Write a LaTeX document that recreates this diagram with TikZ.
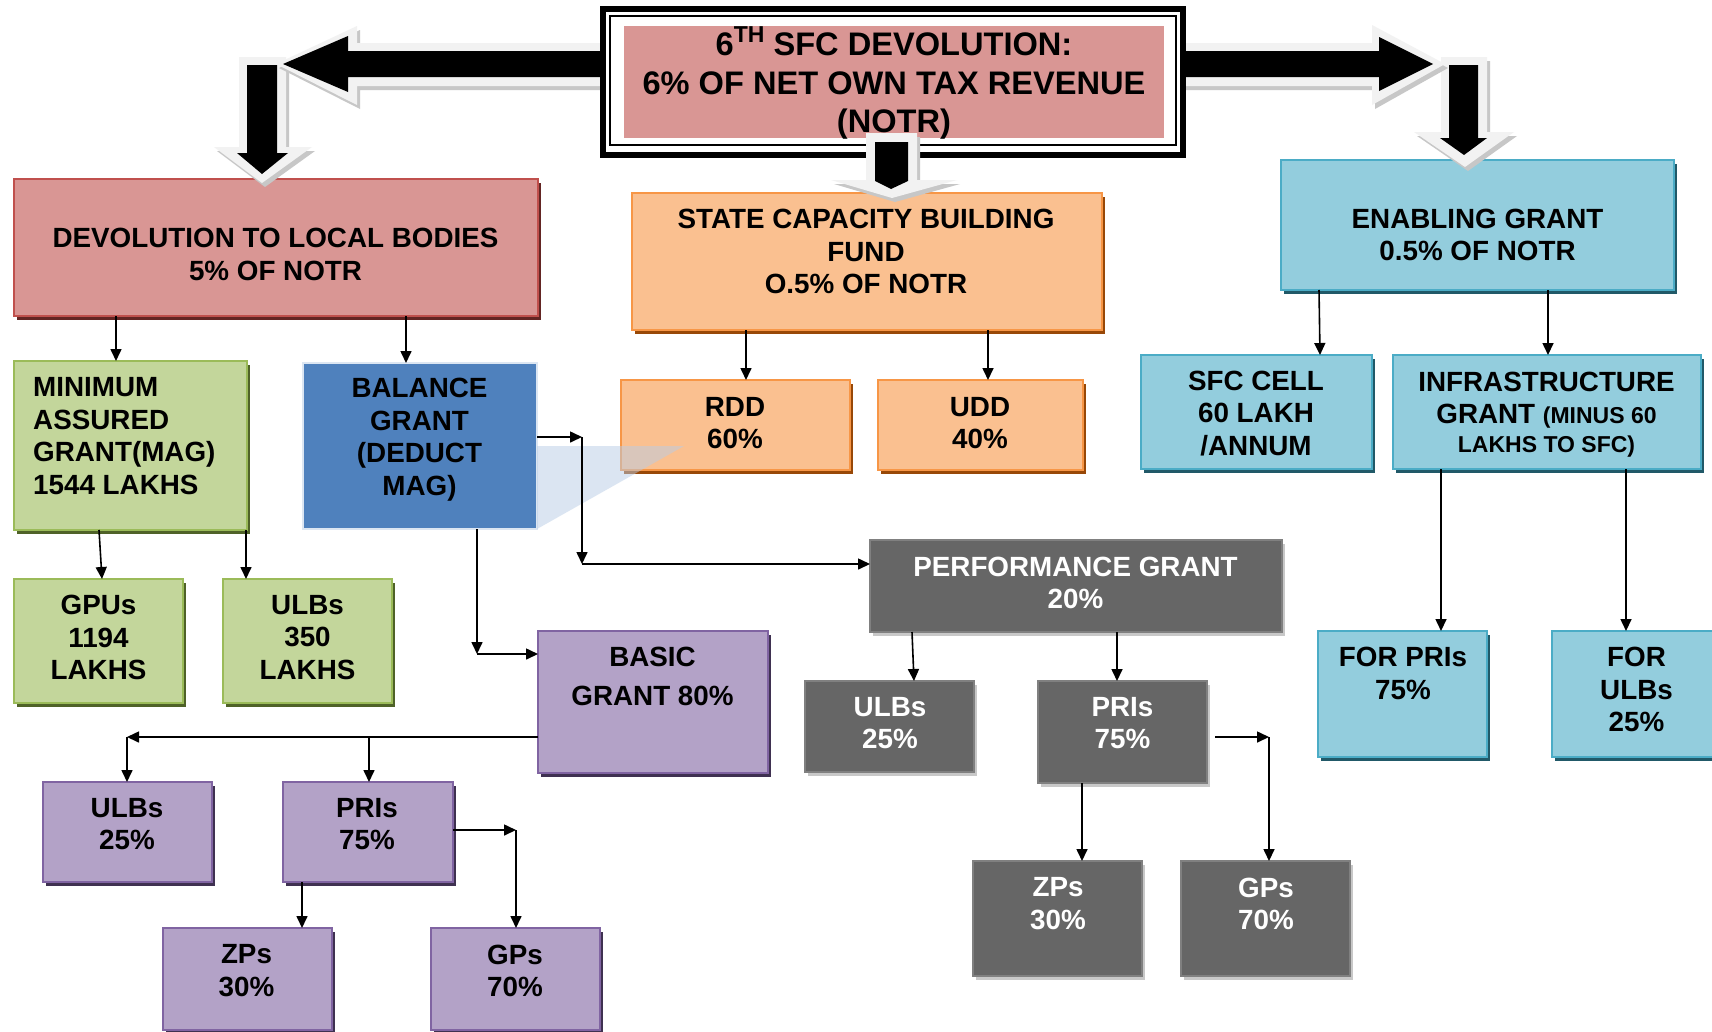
\documentclass[tikz,border=0pt]{standalone}
\usepackage{fontspec}
\setmainfont{Liberation Sans}
\usetikzlibrary{arrows.meta,shadows}
\definecolor{pinkF}{HTML}{D99694}
\definecolor{pinkD}{HTML}{C0504D}
\definecolor{pinkS}{HTML}{632523}
\definecolor{orF}{HTML}{FAC090}
\definecolor{orD}{HTML}{F79646}
\definecolor{orS}{HTML}{984807}
\definecolor{tlF}{HTML}{93CDDD}
\definecolor{tlD}{HTML}{4BACC6}
\definecolor{tlS}{HTML}{215968}
\definecolor{grF}{HTML}{C3D69B}
\definecolor{grD}{HTML}{9BBB59}
\definecolor{grS}{HTML}{4F6228}
\definecolor{blF}{HTML}{4F81BD}
\definecolor{blD}{HTML}{DCE6F2}
\definecolor{puF}{HTML}{B3A2C7}
\definecolor{puD}{HTML}{8064A2}
\definecolor{puS}{HTML}{3F3151}
\definecolor{gyF}{HTML}{666666}
\definecolor{gyD}{HTML}{808080}
\definecolor{gyS}{HTML}{C8C8C8}
\definecolor{triC}{RGB}{185,205,230}
\begin{document}
\begin{tikzpicture}[x=1pt,y=-1pt,
  box/.style={rectangle, inner sep=0pt, outer sep=0pt, line width=2pt},
  sbox/.style n args={3}{box, fill=#1, draw=#2, drop shadow={shadow xshift=3pt, shadow yshift=-4pt, fill=#3, opacity=1}},
  pinkbox/.style={sbox={pinkF}{pinkD}{pinkS}},
  orbox/.style={sbox={orF}{orD}{orS}},
  tlbox/.style={sbox={tlF}{tlD}{tlS}},
  grbox/.style={sbox={grF}{grD}{grS}},
  pubox/.style={sbox={puF}{puD}{puS}},
  gybox/.style={sbox={gyF}{gyD}{gyS}},
  blbox/.style={box, fill=blF, draw=blD, line width=1.5pt},
  txt/.style={align=center, inner sep=0pt, font=\bfseries\fontsize{27.8}{32.5}\selectfont},
  wtxt/.style={txt, text=white},
  arr/.style={line width=1.6pt, -{Triangle[length=12pt,width=11pt]}},
  halo/.style={fill=black!5},
  haloshadow/.style={fill=black!22},
  blk/.style={fill=black}
]
\useasboundingbox (0,0) rectangle (1712,1031);
\fill[white] (0,0) rectangle (1712,1031);

% ---------- boxes ----------
\node[pinkbox, minimum width=524pt, minimum height=137pt] (dev) at (276,247.5) {};
\node[txt] (devt) at (275.5,254.25) {DEVOLUTION TO LOCAL BODIES\\5\% OF NOTR};
\node[orbox, minimum width=470pt, minimum height=137pt] (scb) at (867,261.5) {};
\node[txt] (scbt) at (866,251.5) {STATE CAPACITY BUILDING\\FUND\\O.5\% OF NOTR};
\node[tlbox, minimum width=393pt, minimum height=130pt] (ena) at (1477.5,225) {};
\node[txt] (enat) at (1477.5,235) {ENABLING GRANT\\0.5\% OF NOTR};

\node[grbox, minimum width=233pt, minimum height=169pt] (min) at (130.5,445.5) {};
\node[txt, align=left, anchor=west] (mint) at (33,436) {MINIMUM\\ASSURED\\GRANT(MAG)\\1544 LAKHS};
\node[blbox, minimum width=234pt, minimum height=166pt] (bal) at (420,446) {};
\node[txt] (balt) at (419.5,439.5) {BALANCE\\GRANT\\(DEDUCT\\MAG)};
\node[orbox, minimum width=229pt, minimum height=90pt] (rdd) at (735.5,425) {};
\node[txt] (rddt) at (735,423) {RDD\\60\%};
\node[orbox, minimum width=205pt, minimum height=90pt] (udd) at (980.5,425) {};
\node[txt] (uddt) at (980,423) {UDD\\40\%};
\node[tlbox, minimum width=231pt, minimum height=114pt] (sfc) at (1256.5,412) {};
\node[txt] (sfct) at (1256,413.25) {SFC CELL\\60 LAKH\\/ANNUM};
\node[tlbox, minimum width=308pt, minimum height=114pt] (inf) at (1547,412) {};
\node[txt] (inft) at (1546.5,414.5) {INFRASTRUCTURE\\GRANT {\fontsize{23}{26}\selectfont (MINUS 60}\\[-3.7pt]{\fontsize{23}{26}\selectfont LAKHS TO SFC)}};

\node[grbox, minimum width=169pt, minimum height=124pt] (gpu) at (98.5,641) {};
\node[txt] (gput) at (98.5,637.5) {GPUs\\1194\\LAKHS};
\node[grbox, minimum width=169pt, minimum height=124pt] (ulm) at (307.5,641) {};
\node[txt] (ulmt) at (307.5,637.5) {ULBs\\350\\LAKHS};

\node[pubox, minimum width=230pt, minimum height=142pt] (bas) at (653,702) {};
\node[txt] (bast) at (652.5,676.25) {BASIC\\[6pt]GRANT 80\%};

\node[gybox, minimum width=412pt, minimum height=92pt] (prf) at (1076,586) {};
\node[wtxt] (prft) at (1075.5,583) {PERFORMANCE GRANT\\20\%};
\node[gybox, minimum width=169pt, minimum height=91pt] (gu) at (889.5,726.5) {};
\node[wtxt] (gut) at (890,723) {ULBs\\25\%};
\node[gybox, minimum width=169pt, minimum height=102pt] (gp) at (1122.5,732) {};
\node[wtxt] (gpt) at (1122.5,723) {PRIs\\75\%};
\node[gybox, minimum width=169pt, minimum height=115pt] (gz) at (1057.5,918.5) {};
\node[wtxt] (gzt) at (1058,903.75) {ZPs\\30\%};
\node[gybox, minimum width=169pt, minimum height=115pt] (gg) at (1265.5,918.5) {};
\node[wtxt] (ggt) at (1266,903.75) {GPs\\70\%};

\node[tlbox, minimum width=169pt, minimum height=126pt] (fp) at (1402.5,694) {};
\node[txt] (fpt) at (1403,673.5) {FOR PRIs\\75\%};
\node[tlbox, minimum width=169pt, minimum height=126pt] (fu) at (1636.5,694) {};
\node[txt] (fut) at (1636.5,689.75) {FOR\\ULBs\\25\%};

\node[pubox, minimum width=169pt, minimum height=100pt] (pu) at (127.5,832) {};
\node[txt] (put) at (127,824) {ULBs\\25\%};
\node[pubox, minimum width=170pt, minimum height=100pt] (pp) at (368,832) {};
\node[txt] (ppt) at (367,824) {PRIs\\75\%};
\node[pubox, minimum width=169pt, minimum height=102pt] (pz) at (247.5,979) {};
\node[txt] (pzt) at (246.5,970.75) {ZPs\\30\%};
\node[pubox, minimum width=169pt, minimum height=102pt] (pg) at (515.5,979) {};
\node[txt] (pgt) at (515,970.75) {GPs\\70\%};

% translucent wedge
\fill[triC, opacity=0.5] (bal.east |- 0,446) -- (684,446) -- (bal.south east) -- cycle;

% ---------- block arrows (left / right) ----------
% left down arrow
\fill[haloshadow, shift={(3,4)}] (239,57) -- (286,57) -- (286,147) -- (312,147) -- (262,183) -- (214,147) -- (239,147) -- cycle;
\fill[halo] (239,57) -- (286,57) -- (286,147) -- (312,147) -- (262,183) -- (214,147) -- (239,147) -- cycle;
\fill[blk] (247,65) -- (277,65) -- (277,153) -- (288,153) -- (262,174) -- (237,153) -- (247,153) -- cycle;
% left arrow
\fill[haloshadow, shift={(3,4)}] (603,43) -- (357,43) -- (357,26) -- (276,64) -- (357,105) -- (357,86) -- (603,86) -- cycle;
\fill[halo] (603,43) -- (357,43) -- (357,26) -- (276,64) -- (357,105) -- (357,86) -- (603,86) -- cycle;
\fill[blk] (600,51) -- (348,51) -- (348,36) -- (283,64) -- (348,92) -- (348,77) -- (600,77) -- cycle;
% right down arrow
\fill[haloshadow, shift={(3,4)}] (1441,57) -- (1487,57) -- (1487,132) -- (1514,132) -- (1465,167) -- (1414,132) -- (1441,132) -- cycle;
\fill[halo] (1441,57) -- (1487,57) -- (1487,132) -- (1514,132) -- (1465,167) -- (1414,132) -- (1441,132) -- cycle;
\fill[blk] (1449,65) -- (1478,65) -- (1478,138) -- (1487,138) -- (1464,155) -- (1440,138) -- (1449,138) -- cycle;
% right arrow
\fill[haloshadow, shift={(3,4)}] (1173,43) -- (1372,43) -- (1372,25) -- (1445,64) -- (1372,105) -- (1372,86) -- (1173,86) -- cycle;
\fill[halo] (1173,43) -- (1372,43) -- (1372,25) -- (1445,64) -- (1372,105) -- (1372,86) -- (1173,86) -- cycle;
\fill[blk] (1180,51) -- (1379,51) -- (1379,37) -- (1433,64) -- (1379,91) -- (1379,77) -- (1180,77) -- cycle;

% ---------- title frame ----------
\draw[line width=6pt, fill=white] (603,9) rectangle (1183,155);
\draw[line width=2pt] (610,16) rectangle (1176,145);
\node[box, fill=pinkF, minimum width=540pt, minimum height=112pt] (ttl) at (894,82) {};
\node[txt, font=\bfseries\fontsize{32.6}{38.3}\selectfont] (ttlt) at (894,83) {6\raisebox{13pt}{\fontsize{23}{23}\selectfont TH} SFC DEVOLUTION:\\6\% OF NET OWN TAX REVENUE\\(NOTR)};

% centre arrow
\fill[haloshadow, shift={(3,4)}] (866,133) -- (917,133) -- (917,180) -- (957,180) -- (892,198) -- (831,180) -- (866,180) -- cycle;
\fill[halo] (866,133) -- (917,133) -- (917,180) -- (957,180) -- (892,198) -- (831,180) -- (866,180) -- cycle;
\fill[blk] (875,142) -- (908,142) -- (908,181) -- (891,189) -- (875,181) -- cycle;

% ---------- connectors ----------
\draw[arr] (dev.south -| 116,0) -- (min.north -| 116,0);
\draw[arr] (dev.south -| 406,0) -- (bal.north -| 406,0);
\draw[arr] (scb.south -| 746,0) -- (rdd.north -| 746,0);
\draw[arr] (scb.south -| 988,0) -- (udd.north -| 988,0);
\draw[arr] (ena.south -| 1319,0) -- (sfc.north -| 1320,0);
\draw[arr] (ena.south -| 1548,0) -- (inf.north -| 1548,0);
\draw[arr] (min.south -| 99,0) -- (gpu.north -| 102,0);
\draw[arr] (min.south -| 246,0) -- (ulm.north -| 246,0);

\coordinate (c1) at (477,654);
\draw[arr] (bal.south -| c1) -- (c1);
\draw[arr] (c1) -- (bas.west |- c1);

\coordinate (c2) at (582,437);
\coordinate (c3) at (582,564);
\draw[arr] (bal.east |- c2) -- (c2);
\draw[arr] (c2) -- (c3);
\draw[arr] (c3) -- (prf.west |- c3);

\coordinate (c4) at (127,737);
\coordinate (c5) at (369,737);
\draw[arr] (bas.west |- c4) -- (c4);
\draw[arr] (c4) -- (pu.north -| c4);
\draw[arr] (c5) -- (pp.north -| c5);
\draw[arr] (pp.south -| 302,0) -- (pz.north -| 302,0);
\coordinate (c6) at (516,830);
\draw[arr] (pp.east |- c6) -- (c6);
\draw[arr] (c6) -- (pg.north -| c6);

\draw[arr] (prf.south -| 912,0) -- (gu.north -| 914,0);
\draw[arr] (prf.south -| 1117,0) -- (gp.north -| 1117,0);
\draw[arr] (gp.south -| 1082,0) -- (gz.north -| 1082,0);
\coordinate (c7) at (1269,737);
\coordinate (c8) at (1215,737);
\draw[arr] (c8) -- (c7);
\draw[arr] (c7) -- (gg.north -| c7);

\draw[arr] (inf.south -| 1441,0) -- (fp.north -| 1441,0);
\draw[arr] (inf.south -| 1626,0) -- (fu.north -| 1626,0);
\end{tikzpicture}
\end{document}
